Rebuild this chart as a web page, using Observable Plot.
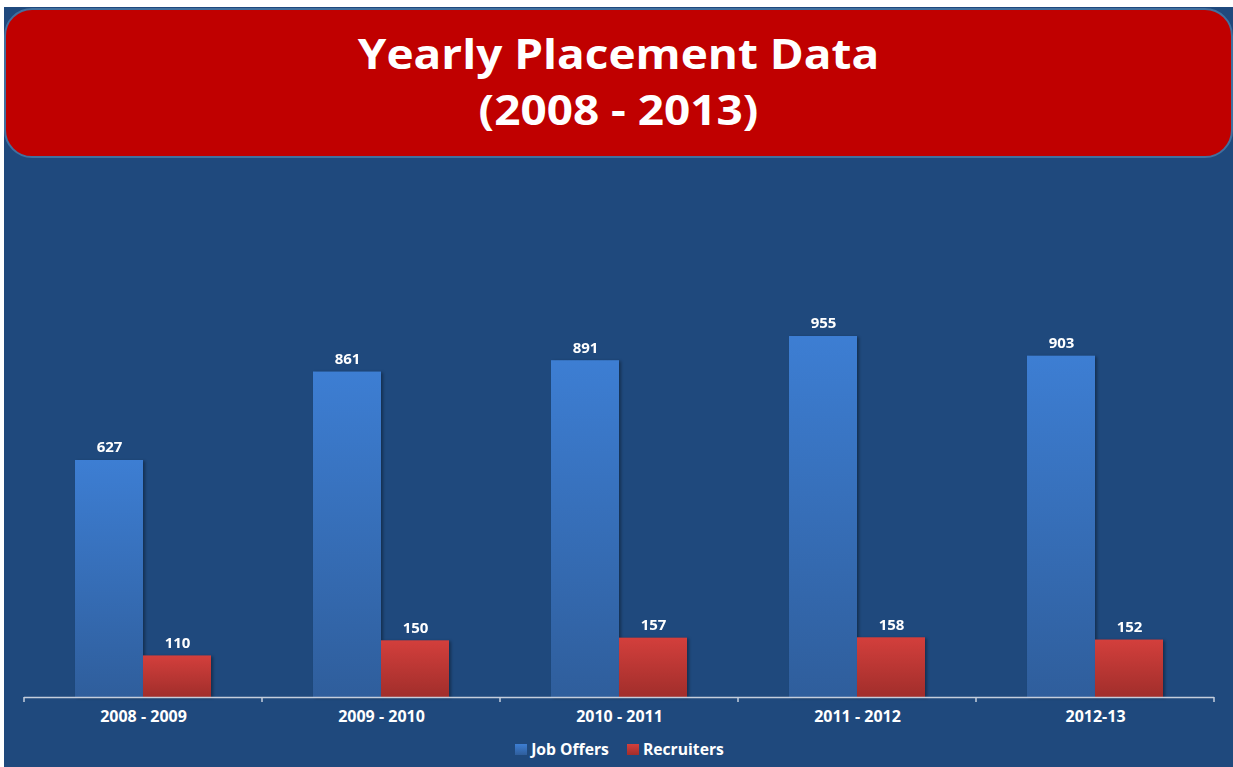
<!DOCTYPE html>
<html><head><meta charset="utf-8">
<script src="https://cdn.jsdelivr.net/npm/d3@7"></script>
<script src="https://cdn.jsdelivr.net/npm/@observablehq/plot@0.6"></script>
<style>
html,body{margin:0;padding:0;background:#fff;}
body{width:1233px;height:767px;position:relative;overflow:hidden;font-family:"Open Sans",sans-serif;}
#panel{position:absolute;left:4px;top:7px;width:1229px;height:760px;background:#1F497D;}
#header{position:absolute;left:4px;top:8px;width:1229px;height:150px;box-sizing:border-box;background:#C00000;border:2px solid #41709F;border-radius:28px;color:#fff;text-align:center;font-weight:700;font-size:41px;}
#header .l{position:absolute;left:0;right:0;line-height:56px;transform:scaleX(1.12);transform-origin:50% 50%;}
#chart{position:absolute;left:0;top:157px;}
#legend{position:absolute;left:0;top:738px;width:1233px;display:flex;justify-content:center;align-items:center;color:#fff;font-weight:700;font-size:15.7px;padding-left:6px;box-sizing:border-box;}
#legend .sw{display:inline-block;width:12px;height:11px;margin-right:4px;}
#legend .item{display:flex;align-items:center;margin:0 9px;}
</style>
</head><body>
<div id="panel"></div>
<div id="header"><div class="l" style="top:15px">Yearly Placement Data</div><div class="l" style="top:71px">(2008 - 2013)</div></div>
<div id="chart"></div>
<div id="legend"></div>
<script>
const categories = ["2008 - 2009", "2009 - 2010", "2010 - 2011", "2011 - 2012", "2012-13"];
const seriesNames = ["Job Offers", "Recruiters"];
const jobOffers = [627, 861, 891, 955, 903];
const recruiters = [110, 150, 157, 158, 152];
const seriesColors = {"Job Offers": ["#3D7ED3", "#2F5E9C"], "Recruiters": ["#D33F3C", "#A12E2B"]};
const gradIds = {"Job Offers": "gBlue", "Recruiters": "gRed"};

const data = categories.flatMap((c, i) => [
  {category: c, series: "Job Offers", value: jobOffers[i]},
  {category: c, series: "Recruiters", value: recruiters[i]}
]);

function defs() {
  const d = d3.create("svg:defs");
  for (const s of seriesNames) {
    const g = d.append("linearGradient").attr("id", gradIds[s]).attr("x1", 0).attr("y1", 0).attr("x2", 0).attr("y2", 1);
    g.append("stop").attr("offset", "0%").attr("stop-color", seriesColors[s][0]);
    g.append("stop").attr("offset", "100%").attr("stop-color", seriesColors[s][1]);
  }
  return d.node();
}

const plot = Plot.plot({
  width: 1233, height: 575,
  marginLeft: 22, marginRight: 18, marginTop: 162, marginBottom: 35,
  style: {background: "transparent", color: "#fff", fontFamily: "Open Sans", fontSize: "16px", fontWeight: 700, overflow: "visible"},
  fx: {domain: categories, padding: 0, label: null, axis: "bottom", tickSize: 0, tickPadding: 13},
  x: {domain: seriesNames, paddingInner: 0, paddingOuter: 0.74, axis: null},
  y: {domain: [0, 1000], axis: null},
  marks: [
    defs,
    ...seriesNames.map(s => Plot.barY(data.filter(d => d.series === s), {
      fx: "category", x: "series", y: "value", fill: `url(#${gradIds[s]})`
    })),
    Plot.ruleY([0], {stroke: "#C5CEDC", strokeWidth: 1.5}),
    Plot.text(data, {fx: "category", x: "series", y: "value", text: d => String(d.value), dy: -13, fill: "#fff", fontSize: 15, fontWeight: 700})
  ]
});

// category boundary ticks from the fx scale
const fx = plot.scale("fx");
const ys = plot.scale("y");
const y0 = ys.apply(0);
const bw = fx.bandwidth ?? ((fx.range[1] - fx.range[0]) / categories.length);
const bounds = categories.map(c => fx.apply(c));
bounds.push(fx.apply(categories[categories.length - 1]) + bw);
d3.select(plot).append("g").attr("stroke", "#C5CEDC").attr("stroke-width", 1.5)
  .selectAll("line").data(bounds).join("line")
  .attr("x1", d => d).attr("x2", d => d).attr("y1", y0).attr("y2", y0 + 5);
d3.select(plot).selectAll('g[aria-label="bar"]').style("filter", "drop-shadow(2px 1px 1.5px rgba(0,0,0,0.35))");

document.getElementById("chart").appendChild(plot);

const legend = d3.select("#legend");
for (const s of seriesNames) {
  const it = legend.append("div").attr("class", "item");
  it.append("span").attr("class", "sw").style("background", `linear-gradient(${seriesColors[s][0]}, ${seriesColors[s][1]})`);
  it.append("span").text(s);
}
</script>
</body></html>
